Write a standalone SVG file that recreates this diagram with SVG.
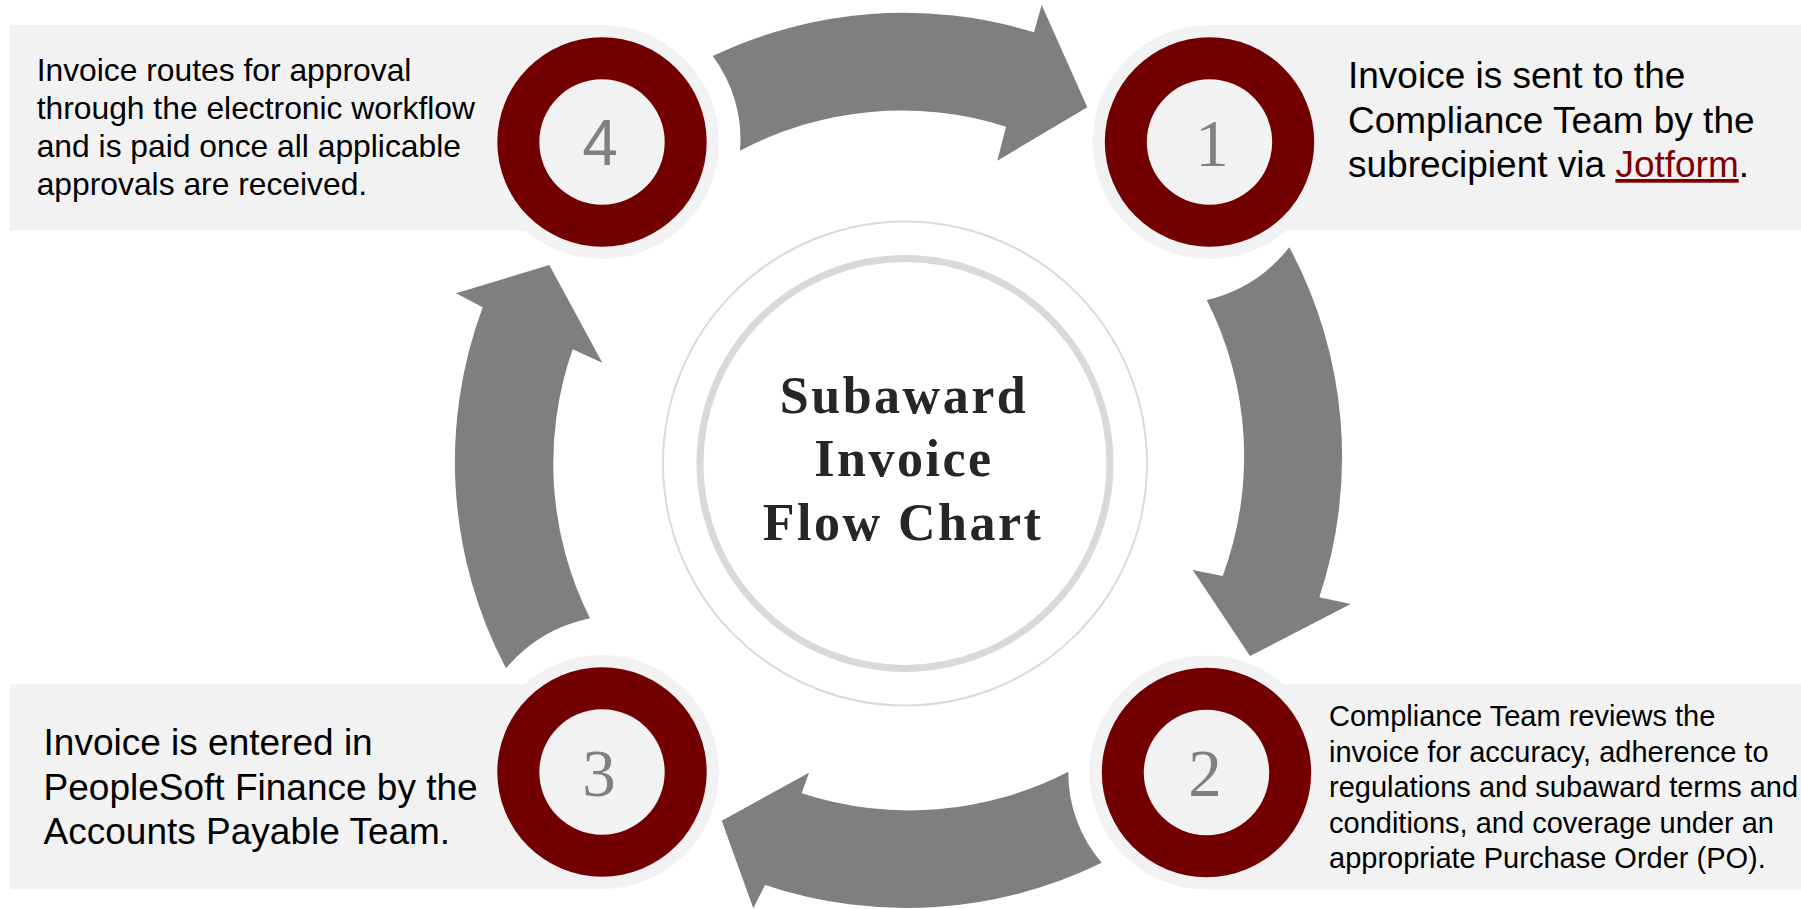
<svg xmlns="http://www.w3.org/2000/svg" width="1801" height="909" viewBox="0 0 1801 909">
<style>
.panel{fill:#f2f2f2}
.halo{fill:#f2f2f2}
.ring{fill:#720000}
.core{fill:#f2f2f2}
.arrow{fill:#7f7f7f}
.txt{font-family:"Liberation Sans",Arial,sans-serif;fill:#000}
.numS{font-family:"Liberation Sans",Arial,sans-serif;fill:#808080;text-anchor:middle}
.numR{font-family:"Liberation Serif","Times New Roman",serif;fill:#808080;text-anchor:middle}
.title{font-family:"Liberation Serif","Times New Roman",serif;font-weight:bold;fill:#262626;text-anchor:middle;letter-spacing:2.5px}
.link{fill:#7f0000;text-decoration:underline}
</style>
<rect width="1801" height="909" fill="#fff"/>

<g id="center">
  <circle cx="905" cy="463.5" r="242" fill="#fff" stroke="#dadada" stroke-width="2"/>
  <circle cx="905" cy="463.5" r="205" fill="#fff" stroke="#d9d9d9" stroke-width="7"/>
  <text class="title" font-size="52" x="904" y="413">Subaward</text>
  <text class="title" font-size="52" x="904" y="476">Invoice</text>
  <text class="title" font-size="52" x="903" y="540">Flow Chart</text>
</g>

<g id="connectors">
  <path class="arrow" d="M712.7,56 A445,445 0 0 1 1034,32.3 L1041.7,5 L1087.3,107.3 L997.3,160.7 L1006,126.7 A346,346 0 0 0 740,150.7 A139,139 0 0 0 712.7,56 Z"/>
  <path class="arrow" d="M1289.3,247.3 A443,443 0 0 1 1319.3,597.3 L1350.7,604 L1250,656 L1192.7,570 L1222.7,576 A345,345 0 0 0 1206.7,300 A150,150 0 0 0 1289.3,247.3 Z"/>
  <path class="arrow" d="M1101.7,862.7 A445,445 0 0 1 765,885 L753.3,908.3 L721.7,820.7 L809,772.7 L801.7,793.3 A346,346 0 0 0 1068.3,771.7 A138,138 0 0 0 1101.7,862.7 Z"/>
  <path class="arrow" d="M506,668.3 A443,443 0 0 1 482.7,307.3 L456,293.3 L549.3,265 L602.3,362.7 L572.7,349.3 A345,345 0 0 0 590,618.3 A150,150 0 0 0 506,668.3 Z"/>
</g>

<g id="step1">
  <rect class="panel" x="1209.5" y="25" width="591.5" height="205.7"/>
  <circle class="halo" cx="1209.5" cy="142" r="117"/>
  <circle class="ring" cx="1209.5" cy="142" r="104.7"/>
  <circle class="core" cx="1209.5" cy="142" r="62.7"/>
  <text class="numR" font-size="67" x="1212" y="165.5">1</text>
  <text class="txt" font-size="37" x="1348" y="88.3">Invoice is sent to the</text>
  <text class="txt" font-size="37" x="1348" y="133">Compliance Team by the</text>
  <text class="txt" font-size="37" x="1348" y="177">subrecipient via <tspan class="link">Jotform</tspan>.</text>
</g>

<g id="step2">
  <rect class="panel" x="1206.5" y="684.3" width="594.5" height="205.7"/>
  <circle class="halo" cx="1206.5" cy="772.5" r="117"/>
  <circle class="ring" cx="1206.5" cy="772.5" r="104.7"/>
  <circle class="core" cx="1206.5" cy="772.5" r="62.7"/>
  <text class="numR" font-size="67" x="1205" y="795.5">2</text>
  <text class="txt" font-size="29" x="1329" y="726">Compliance Team reviews the</text>
  <text class="txt" font-size="29" x="1329" y="761.5">invoice for accuracy, adherence to</text>
  <text class="txt" font-size="29" x="1329" y="797">regulations and subaward terms and</text>
  <text class="txt" font-size="29" x="1329" y="832.5">conditions, and coverage under an</text>
  <text class="txt" font-size="29" x="1329" y="868">appropriate Purchase Order (PO).</text>
</g>

<g id="step3">
  <rect class="panel" x="10" y="684.3" width="592" height="205"/>
  <circle class="halo" cx="602" cy="772" r="117"/>
  <circle class="ring" cx="602" cy="772" r="104.7"/>
  <circle class="core" cx="602" cy="772" r="62.7"/>
  <text class="numR" font-size="67" x="599" y="795.5">3</text>
  <text class="txt" font-size="37" x="43.6" y="755">Invoice is entered in</text>
  <text class="txt" font-size="37" x="43.6" y="800">PeopleSoft Finance by the</text>
  <text class="txt" font-size="37" x="43.6" y="844">Accounts Payable Team.</text>
</g>

<g id="step4">
  <rect class="panel" x="10" y="25" width="592" height="205.7"/>
  <circle class="halo" cx="602" cy="142" r="117"/>
  <circle class="ring" cx="602" cy="142" r="104.7"/>
  <circle class="core" cx="602" cy="142" r="62.7"/>
  <text class="numS" font-size="64" x="600" y="165">4</text>
  <text class="txt" font-size="31.8" x="36.7" y="80.7">Invoice routes for approval</text>
  <text class="txt" font-size="31.8" x="36.7" y="119">through the electronic workflow</text>
  <text class="txt" font-size="31.8" x="36.7" y="157">and is paid once all applicable</text>
  <text class="txt" font-size="31.8" x="36.7" y="195">approvals are received.</text>
</g>
</svg>
